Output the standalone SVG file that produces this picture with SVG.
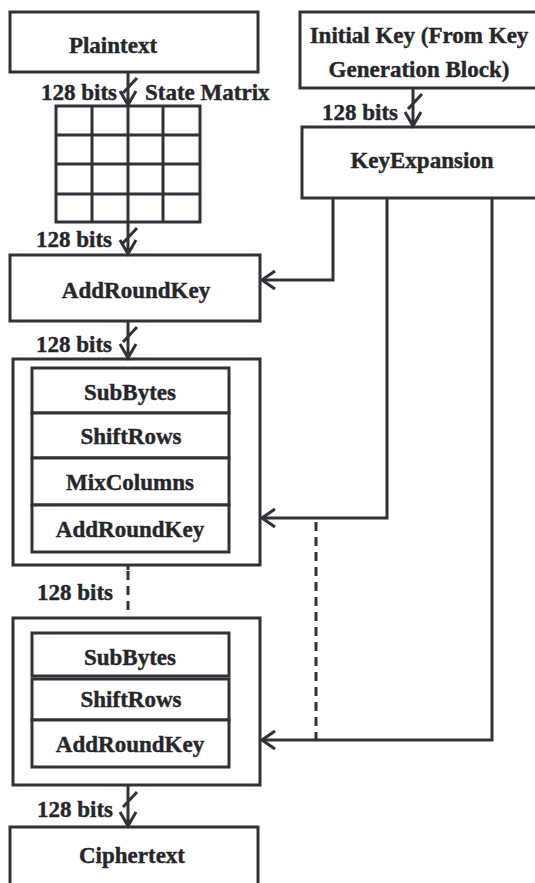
<svg xmlns="http://www.w3.org/2000/svg" width="535" height="883" viewBox="0 0 535 883">
<style>
.box{fill:#fff;stroke:#303238;stroke-width:3}
.ln{fill:none;stroke:#303238;stroke-width:3}
.dash{fill:none;stroke:#303238;stroke-width:3;stroke-dasharray:9 6}
.t{font-family:"Liberation Serif","Times New Roman",serif;font-weight:bold;font-size:23px;fill:#26262a;stroke:#26262a;stroke-width:0.4}
.m{text-anchor:middle}
.e{text-anchor:end}
</style>
<defs>
<marker id="ah" viewBox="0 0 16 20" refX="14" refY="10" markerWidth="16" markerHeight="20" markerUnits="userSpaceOnUse" orient="auto">
<path d="M1,1 L14,10 L1,19" fill="none" stroke="#303238" stroke-width="3"/>
</marker>
</defs>
<rect width="535" height="883" fill="#fff"/>

<g id="plaintext">
<rect class="box" x="10" y="12" width="248" height="60"/>
<text class="t m" x="113" y="53">Plaintext</text>
</g>

<g id="initialkey">
<rect class="box" x="300" y="12" width="245" height="76"/>
<text class="t m" x="419" y="43">Initial Key (From Key</text>
<text class="t m" x="419" y="77">Generation Block)</text>
</g>

<g id="keyexpansion">
<rect class="box" x="302" y="127" width="243" height="71"/>
<text class="t m" x="422" y="168">KeyExpansion</text>
</g>

<g id="statematrix">
<rect class="box" x="56" y="106" width="144" height="116"/>
<path class="ln" d="M92,106V222M128,106V222M163,106V222M56,135H200M56,164H200M56,194H200"/>
<text class="t" x="145" y="100">State Matrix</text>
</g>

<g id="addroundkey0">
<rect class="box" x="10" y="255" width="250" height="66"/>
<text class="t m" x="136" y="298">AddRoundKey</text>
</g>

<g id="round1">
<rect class="box" x="13" y="359" width="247" height="206"/>
<rect class="box" x="32" y="368" width="197" height="45"/>
<text class="t m" x="130" y="400">SubBytes</text>
<rect class="box" x="32" y="413" width="197" height="45"/>
<text class="t m" x="131" y="444">ShiftRows</text>
<rect class="box" x="32" y="458" width="197" height="47"/>
<text class="t m" x="130" y="490">MixColumns</text>
<rect class="box" x="32" y="505" width="197" height="47"/>
<text class="t m" x="130" y="537">AddRoundKey</text>
</g>

<g id="round2">
<rect class="box" x="13" y="618" width="247" height="167"/>
<rect class="box" x="32" y="633" width="197" height="43"/>
<text class="t m" x="130" y="665">SubBytes</text>
<rect class="box" x="32" y="679" width="197" height="41"/>
<text class="t m" x="131" y="707">ShiftRows</text>
<rect class="box" x="32" y="720" width="197" height="47"/>
<text class="t m" x="130" y="752">AddRoundKey</text>
</g>

<g id="ciphertext">
<rect class="box" x="10" y="827" width="248" height="70"/>
<text class="t m" x="132" y="863">Ciphertext</text>
</g>

<g id="connectors">
<path class="ln" d="M128,72V105M137,78L123,93M120,91L128,105L136,91"/>
<path class="ln" d="M128,222V254M137,228L123,243M120,240L128,254L136,240"/>
<path class="ln" d="M128,321V358M137,327L123,342M120,344L128,358L136,344"/>
<path class="ln" d="M128,785V826M137,792L123,807M120,812L128,826L136,812"/>
<path class="ln" d="M413,88V126M422,94L408,109M405,112L413,126L421,112"/>
<path class="ln" d="M128,565V570"/>
<path class="dash" d="M128,571V612"/>
<path class="ln" d="M333,198V280H262" marker-end="url(#ah)"/>
<path class="ln" d="M387,198V518H262" marker-end="url(#ah)"/>
<path class="ln" d="M492,198V740H262" marker-end="url(#ah)"/>
<path class="dash" d="M316,522V740"/>
<text class="t e" x="117" y="100">128 bits</text>
<text class="t e" x="398" y="120">128 bits</text>
<text class="t e" x="112" y="247">128 bits</text>
<text class="t e" x="112" y="352">128 bits</text>
<text class="t e" x="113" y="600">128 bits</text>
<text class="t e" x="113" y="817">128 bits</text>
</g>
</svg>
